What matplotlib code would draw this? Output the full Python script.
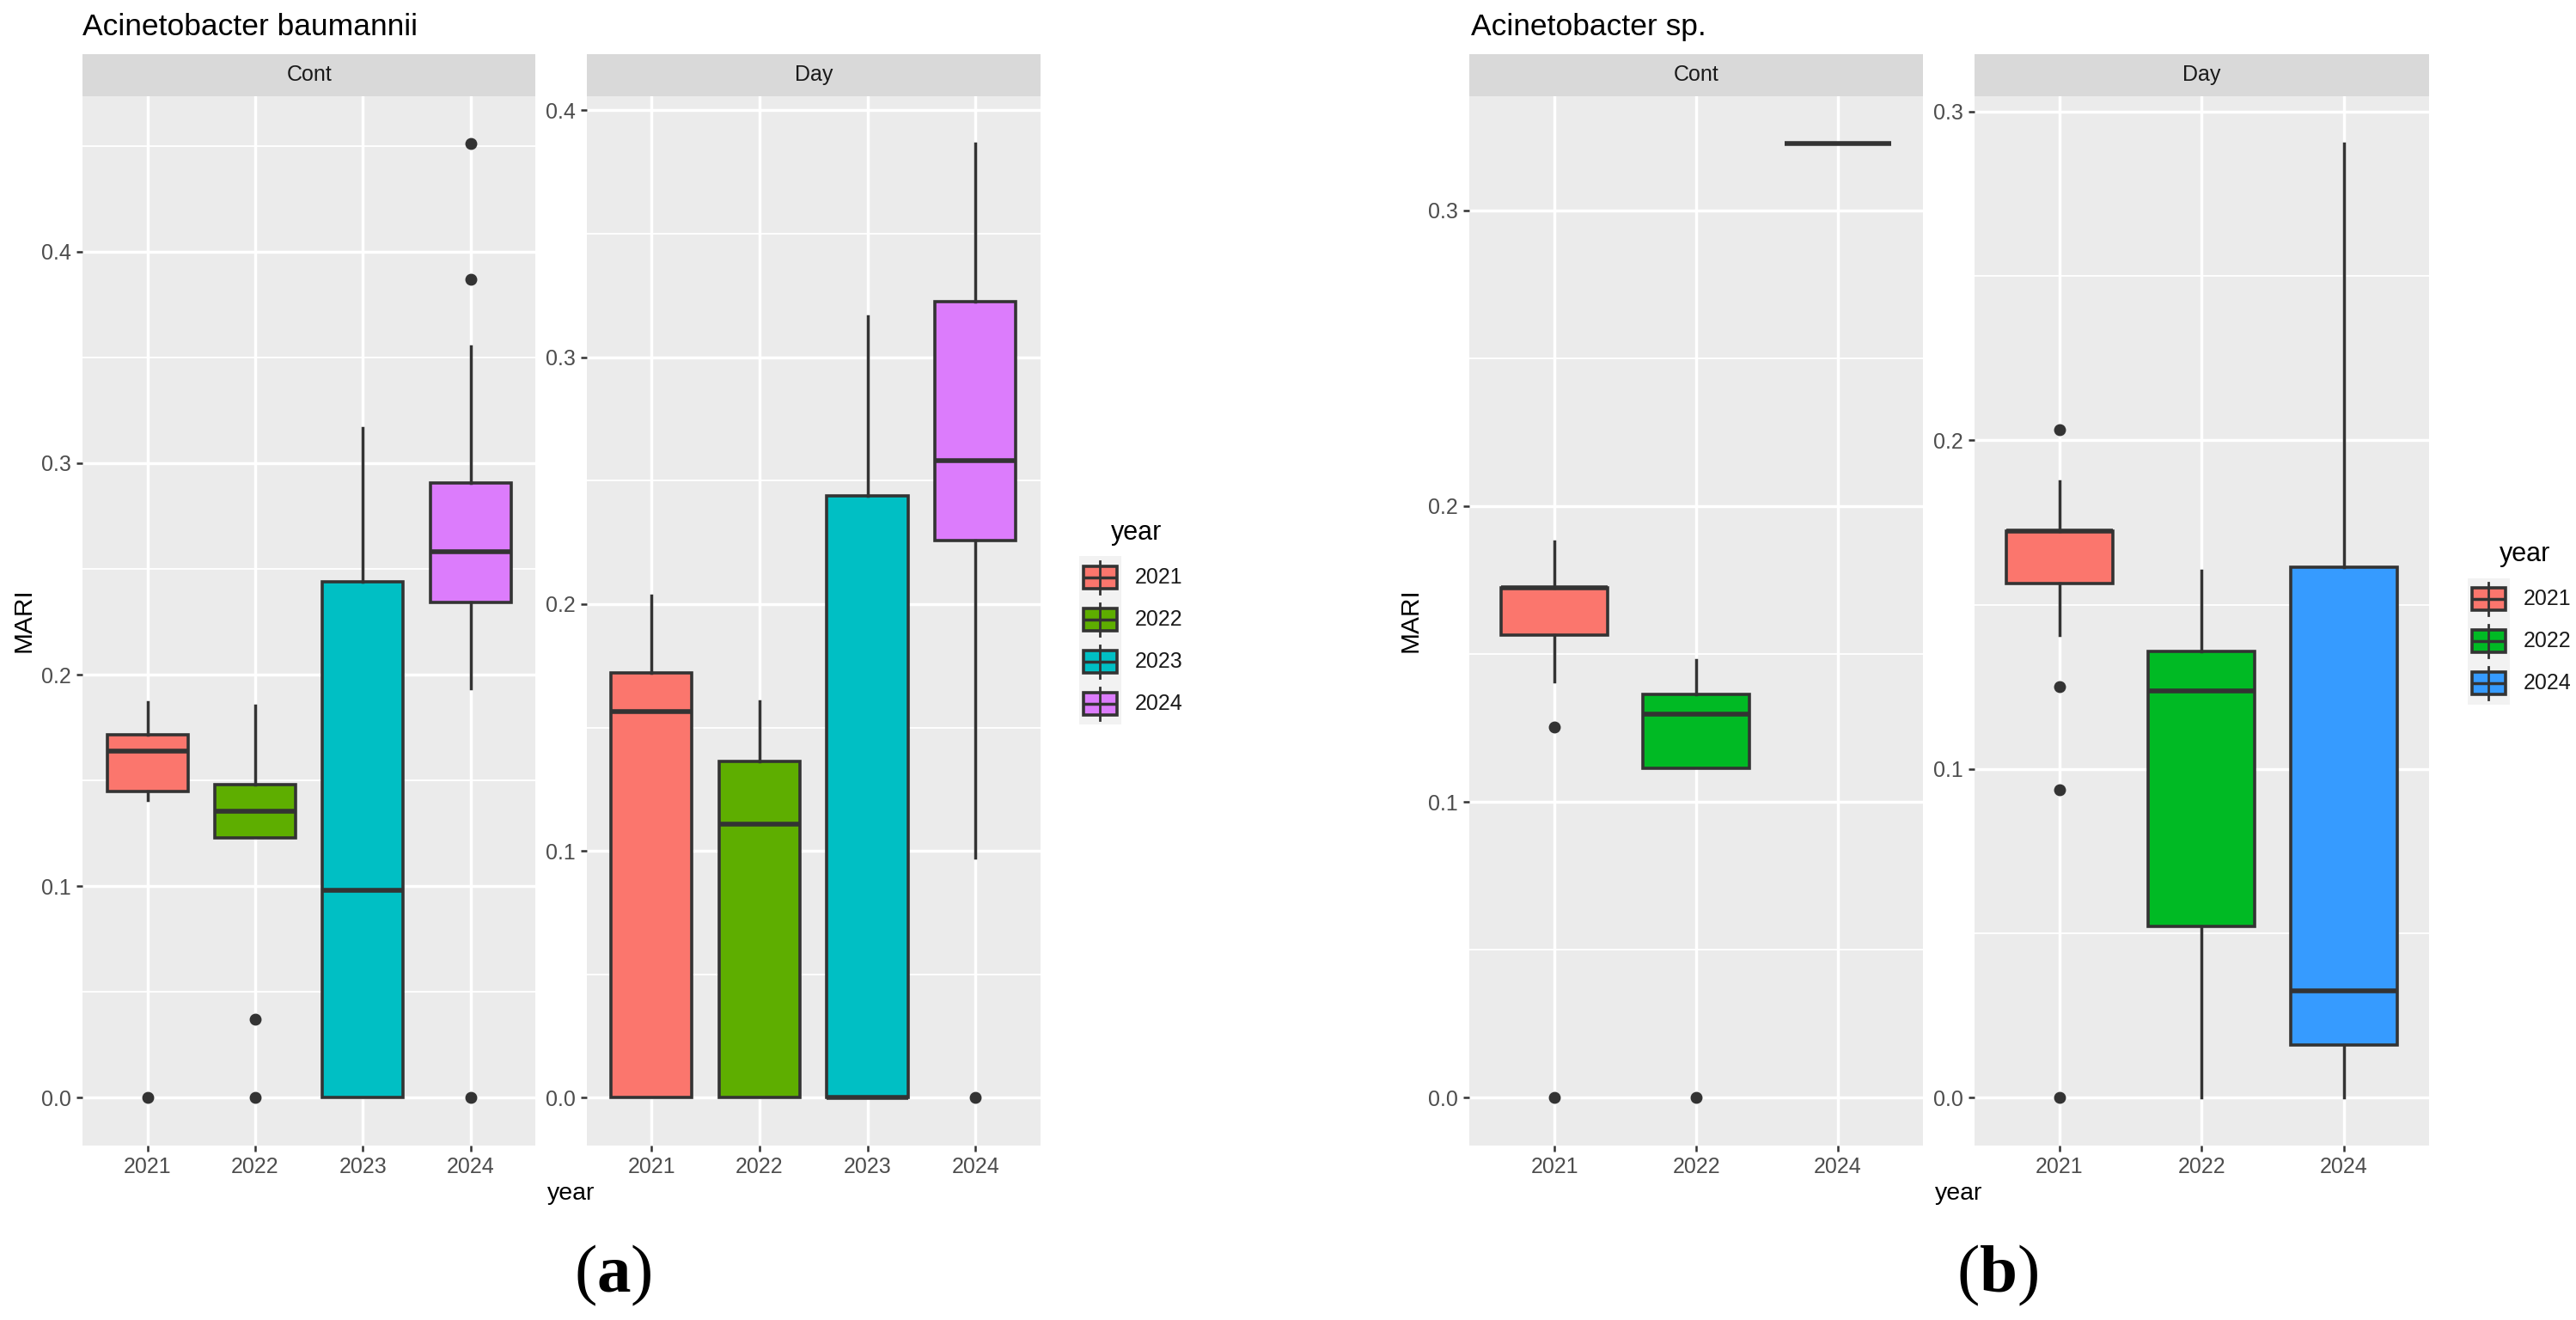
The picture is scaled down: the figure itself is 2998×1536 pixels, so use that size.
import matplotlib
matplotlib.use("Agg")
import matplotlib.pyplot as plt
from matplotlib.ticker import MultipleLocator, FixedLocator
from matplotlib.patches import Rectangle
from matplotlib.lines import Line2D

plt.rcParams['font.family'] = ['Liberation Sans', 'DejaVu Sans']
plt.rcParams['mathtext.fontset'] = 'custom'
plt.rcParams['mathtext.rm'] = 'Liberation Serif'
plt.rcParams['mathtext.bf'] = 'Liberation Serif:bold'

# ---------------- data (box statistics) ----------------
years_a = ["2021", "2022", "2023", "2024"]
colors_a = ["#FB766D", "#5EAE00", "#00BFC4", "#DC7CFC"]

a_cont_whislo = [0.1406, 0.1228, 0.0, 0.1936]
a_cont_q1 = [0.1447, 0.1228, 0.0, 0.2340]
a_cont_med = [0.1640, 0.1355, 0.0980, 0.2580]
a_cont_q3 = [0.1718, 0.1480, 0.2440, 0.2905]
a_cont_whishi = [0.1872, 0.1854, 0.3166, 0.3550]
a_cont_fliers = [[0.0], [0.037, 0.0], [], [0.0, 0.387, 0.451]]

a_day_whislo = [0.0, 0.0, 0.0, 0.0972]
a_day_q1 = [0.0, 0.0, 0.0, 0.2256]
a_day_med = [0.1563, 0.1110, 0.0, 0.2580]
a_day_q3 = [0.1722, 0.1362, 0.2438, 0.3225]
a_day_whishi = [0.2033, 0.1606, 0.3166, 0.3865]
a_day_fliers = [[], [], [], [0.0]]

years_b = ["2021", "2022", "2024"]
colors_b = ["#FB766D", "#00BA24", "#369BFF"]

b_cont_whislo = [0.1408, 0.1114, 0.3225]
b_cont_q1 = [0.1564, 0.1114, 0.3225]
b_cont_med = [0.1723, 0.1296, 0.3225]
b_cont_q3 = [0.1723, 0.1363, 0.3225]
b_cont_whishi = [0.1880, 0.1481, 0.3225]
b_cont_fliers = [[0.1252, 0.0], [0.0], []]

b_day_whislo = [0.1407, 0.0, 0.0]
b_day_q1 = [0.1564, 0.0522, 0.0161]
b_day_med = [0.1724, 0.1238, 0.0326]
b_day_q3 = [0.1724, 0.1358, 0.1614]
b_day_whishi = [0.1876, 0.1603, 0.2902]
b_day_fliers = [[0.2032, 0.1251, 0.0937, 0.0], [], []]

title_a = "Acinetobacter baumannii"
title_b = "Acinetobacter sp."
facets = ["Cont", "Day"]

# ---------------- layout ----------------
W, H = 2998, 1536
fig = plt.figure(figsize=(W / 100, H / 100), dpi=100)

def rect(x0, x1, y0, y1):
    return [x0 / W, 1 - y1 / H, (x1 - x0) / W, (y1 - y0) / H]

P_TOP, P_BOT = 111.6, 1333
S_TOP = 62.5

def make_stats(wl, q1, med, q3, wh, fl):
    return [dict(whislo=a, q1=b, med=c, q3=d, whishi=e, fliers=f)
            for a, b, c, d, e, f in zip(wl, q1, med, q3, wh, fl)]

def draw_panel(x0, x1, stats, labels, colors, facet, yticks):
    ax = fig.add_axes(rect(x0, x1, P_TOP, P_BOT))
    ax.set_facecolor("#EBEBEB")
    for s in ax.spines.values():
        s.set_visible(False)
    n = len(stats)
    pos = list(range(1, n + 1))
    bp = ax.bxp(stats, positions=pos, widths=0.75, patch_artist=True,
                showcaps=False, manage_ticks=False,
                boxprops=dict(edgecolor="#333333", linewidth=2.6),
                medianprops=dict(color="#333333", linewidth=4.0,
                                 solid_capstyle="butt"),
                whiskerprops=dict(color="#333333", linewidth=2.5),
                flierprops=dict(marker="o", markerfacecolor="#333333",
                                markeredgecolor="#333333", markersize=9))
    for patch, c in zip(bp["boxes"], colors):
        patch.set_facecolor(c)
    vals = []
    for s in stats:
        vals += [s["whislo"], s["q1"], s["med"], s["q3"], s["whishi"]] + list(s["fliers"])
    lo, hi = min(vals), max(vals)
    pad = 0.05 * (hi - lo)
    ax.set_ylim(lo - pad, hi + pad)
    ax.set_xlim(0.4, n + 0.6)
    ax.set_xticks(pos)
    ax.set_xticklabels(labels)
    ax.yaxis.set_major_locator(FixedLocator(yticks))
    ax.set_yticklabels(["%.1f" % v for v in yticks])
    ax.yaxis.set_minor_locator(MultipleLocator(0.05))
    ax.set_axisbelow(True)
    ax.grid(which="major", color="white", linewidth=2.5)
    ax.grid(which="minor", axis="y", color="white", linewidth=1.3)
    ax.tick_params(which="major", length=5, width=1.8, color="#333333",
                   labelsize=18, labelcolor="#4D4D4D", pad=4.5)
    ax.tick_params(which="minor", length=0)
    # strip
    sx = fig.add_axes(rect(x0, x1, S_TOP, P_TOP))
    sx.set_facecolor("#D9D9D9")
    sx.set_xticks([]); sx.set_yticks([])
    for s in sx.spines.values():
        s.set_visible(False)
    sx.text(0.5, 0.5, facet, ha="center", va="center", fontsize=18,
            color="#1A1A1A", transform=sx.transAxes)
    return ax

draw_panel(96.4, 623, make_stats(a_cont_whislo, a_cont_q1, a_cont_med, a_cont_q3, a_cont_whishi, a_cont_fliers),
           years_a, colors_a, facets[0], [0.0, 0.1, 0.2, 0.3, 0.4])
draw_panel(683, 1210.5, make_stats(a_day_whislo, a_day_q1, a_day_med, a_day_q3, a_day_whishi, a_day_fliers),
           years_a, colors_a, facets[1], [0.0, 0.1, 0.2, 0.3, 0.4])
draw_panel(1710.4, 2238, make_stats(b_cont_whislo, b_cont_q1, b_cont_med, b_cont_q3, b_cont_whishi, b_cont_fliers),
           years_b, colors_b, facets[0], [0.0, 0.1, 0.2, 0.3])
draw_panel(2297.6, 2827, make_stats(b_day_whislo, b_day_q1, b_day_med, b_day_q3, b_day_whishi, b_day_fliers),
           years_b, colors_b, facets[1], [0.0, 0.1, 0.2, 0.3])

# ---------------- overlay for texts and legends ----------------
ov = fig.add_axes([0, 0, 1, 1], zorder=10)
ov.set_xlim(0, W); ov.set_ylim(H, 0)
ov.axis("off")
ov.patch.set_alpha(0)

ov.text(96.4, 41, title_a, ha="left", va="baseline", fontsize=25.5, color="black")
ov.text(1711.7, 41, title_b, ha="left", va="baseline", fontsize=25.5, color="black")
ov.text(27.7, 722, "MARI", rotation=90, ha="center", va="center", fontsize=21.5, color="black")
ov.text(1641.7, 722, "MARI", rotation=90, ha="center", va="center", fontsize=21.5, color="black")
ov.text(637, 1389, "year", ha="left", va="center", fontsize=20.5, color="black")
ov.text(2251.7, 1389, "year", ha="left", va="center", fontsize=20.5, color="black")
ov.text(713, 1484, r"$(\mathbf{a})$", ha="center", va="center", fontsize=57, color="black")
ov.text(2325, 1484, r"$(\mathbf{b})$", ha="center", va="center", fontsize=57, color="black")

def draw_legend(kx, title_y, first_cy, labels, colors):
    step = 49
    ov.text(kx + 37, title_y, "year", ha="left", va="center", fontsize=22, color="black")
    n = len(labels)
    top = first_cy - step / 2
    ov.add_patch(Rectangle((kx, top), 49, step * n, facecolor="#F2F2F2", edgecolor="none"))
    cx = kx + 24.5
    for i, (lab, c) in enumerate(zip(labels, colors)):
        cy = first_cy + i * step
        ov.add_line(Line2D([cx, cx], [cy - 19, cy + 19], color="#333333", linewidth=2.0))
        ov.add_patch(Rectangle((kx + 5, cy - 13), 39, 26, facecolor=c,
                               edgecolor="#333333", linewidth=2.6))
        ov.add_line(Line2D([kx + 5, kx + 44], [cy, cy], color="#333333", linewidth=2.5,
                           solid_capstyle="butt"))
        ov.text(kx + 65, cy, lab, ha="left", va="center", fontsize=18, color="#1A1A1A")

draw_legend(1256, 620, 671.7, years_a, colors_a)
draw_legend(2872, 645, 697, years_b, colors_b)

fig.savefig("out.png", dpi=100, facecolor="white")
